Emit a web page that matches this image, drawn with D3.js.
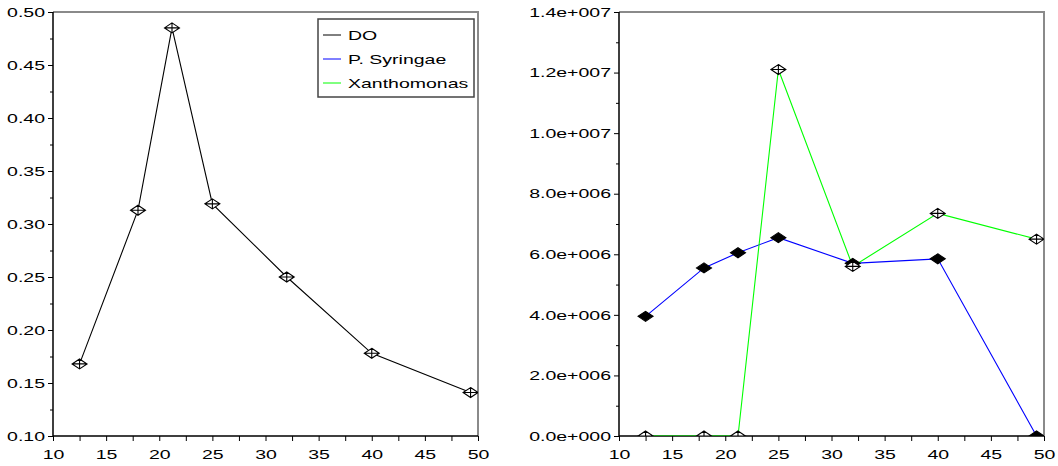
<!DOCTYPE html>
<html>
<head>
<meta charset="utf-8">
<script src="https://cdn.jsdelivr.net/npm/d3@7"></script>
<style>
  body { margin: 0; background: #fff; }
  svg { display: block; font-family: "Liberation Sans", Arial, sans-serif; }
</style>
</head>
<body>
<div id="chart"></div>
<script>
// temperatures (x) shared by both panels
var temps = [12.5, 18, 21.2, 25, 32, 40, 49.3];
var doValues = [0.168, 0.313, 0.485, 0.319, 0.250, 0.178, 0.141];
var syringae = [3.95e6, 5.55e6, 6.05e6, 6.55e6, 5.7e6, 5.85e6, 0];
var xantho = [0, 0, 0, 1.21e7, 5.6e6, 7.35e6, 6.5e6];

var legendNames = ["DO", "P. Syringae", "Xanthomonas"];
var legendColors = ["#000000", "#0000ff", "#00ff00"];

var W = 1058, H = 466;
var SX = 1.5; // fonts in the picture look stretched horizontally
var FS = "13px";
var plotTop = 12, plotBottom = 436;

var svg = d3.select("#chart").append("svg").attr("width", W).attr("height", H);

function sciFormat(d) {
    if (d === 0) return "0.0e+000";
    var e = Math.floor(Math.log10(d) + 1e-9);
    var m = d / Math.pow(10, e);
    return m.toFixed(1) + "e+" + String(e).padStart(3, "0");
}

var diamond = "M0,-5L7.5,0L0,5L-7.5,0Z";
var diamondPlus = diamond + "M0,-5V5M-7.5,0H7.5";

function panel(id, left, right, yDomain, yMajor, yMinor, yFmt, series) {
    var x = d3.scaleLinear().domain([10, 50]).range([left, right]);
    var y = d3.scaleLinear().domain(yDomain).range([plotBottom, plotTop]);
    var g = svg.append("g");

    // gray frame top/right
    g.append("path").attr("d", "M" + left + "," + plotTop + "H" + right + "V" + plotBottom)
        .attr("fill", "none").attr("stroke", "#8a8a8a").attr("stroke-width", 2);

    // minor ticks
    g.append("g").attr("transform", "translate(" + left + ",0)")
        .call(d3.axisLeft(y).tickValues(yMinor).tickSize(3).tickFormat(""))
        .call(function (s) { s.select(".domain").remove(); });
    g.append("g").attr("transform", "translate(0," + plotBottom + ")")
        .call(d3.axisBottom(x).tickValues(d3.range(12.5, 50, 5)).tickSize(5).tickFormat(""))
        .call(function (s) { s.select(".domain").remove(); });

    // major ticks
    var ya = g.append("g").attr("transform", "translate(" + left + ",0)")
        .call(d3.axisLeft(y).tickValues(yMajor).tickSize(5).tickFormat(yFmt));
    ya.select(".domain").remove();
    ya.selectAll("text").attr("x", -8 / SX).attr("transform", "scale(" + SX + ",1)")
        .style("font-size", FS).attr("fill", "#000");

    var xa = g.append("g").attr("transform", "translate(0," + plotBottom + ")")
        .call(d3.axisBottom(x).tickValues(d3.range(10, 51, 5)).tickSize(5));
    xa.select(".domain").remove();
    xa.selectAll("text").attr("y", 13.5).attr("transform", "scale(" + SX + ",1)")
        .style("font-size", FS).attr("fill", "#000");

    g.selectAll(".tick line").attr("stroke", "#000");

    // axis lines
    g.append("path").attr("d", "M" + left + "," + plotTop + "V" + plotBottom + "H" + right)
        .attr("fill", "none").attr("stroke", "#000").attr("stroke-width", 1.5);

    svg.append("clipPath").attr("id", id).append("rect")
        .attr("x", left).attr("y", plotTop).attr("width", right - left).attr("height", plotBottom - plotTop);
    var plot = g.append("g").attr("clip-path", "url(#" + id + ")");

    var line = d3.line().x(function (d) { return x(d[0]); }).y(function (d) { return y(d[1]); });
    series.forEach(function (s) {
        var pts = temps.map(function (t, i) { return [t, s.values[i]]; });
        plot.append("path").datum(pts).attr("d", line)
            .attr("fill", "none").attr("stroke", s.color).attr("stroke-width", 1.1);
    });
    series.forEach(function (s) {
        var pts = temps.map(function (t, i) { return [t, s.values[i]]; });
        plot.selectAll(null).data(pts).enter().append("path")
            .attr("transform", function (d) { return "translate(" + x(d[0]) + "," + y(d[1]) + ")"; })
            .attr("d", s.filled ? diamond : diamondPlus)
            .attr("fill", s.filled ? "#000" : "#fff")
            .attr("stroke", "#000").attr("stroke-width", 1.1);
    });
}

panel("clipL", 53, 478, [0.10, 0.50],
    d3.range(0.10, 0.501, 0.05), d3.range(0.125, 0.5, 0.05),
    d3.format(".2f"),
    [{ values: doValues, color: "#000", filled: false }]);

panel("clipR", 619, 1044, [0, 1.4e7],
    d3.range(0, 1.4e7 + 1, 2e6), d3.range(1e6, 1.4e7, 2e6),
    sciFormat,
    [{ values: syringae, color: "#0000ff", filled: true },
     { values: xantho, color: "#00ff00", filled: false }]);

// legend
var lg = svg.append("g");
lg.append("rect").attr("x", 318).attr("y", 19).attr("width", 156).attr("height", 78)
    .attr("fill", "#fff").attr("stroke", "#444").attr("stroke-width", 1.5);
legendNames.forEach(function (name, i) {
    var cy = 35 + i * 24;
    lg.append("line").attr("x1", 323).attr("x2", 341).attr("y1", cy).attr("y2", cy)
        .attr("stroke", legendColors[i]).attr("stroke-width", 1);
    lg.append("text").attr("transform", "translate(348," + (cy + 4.7) + ") scale(" + SX + ",1)")
        .style("font-size", FS).text(name);
});
</script>
</body>
</html>
